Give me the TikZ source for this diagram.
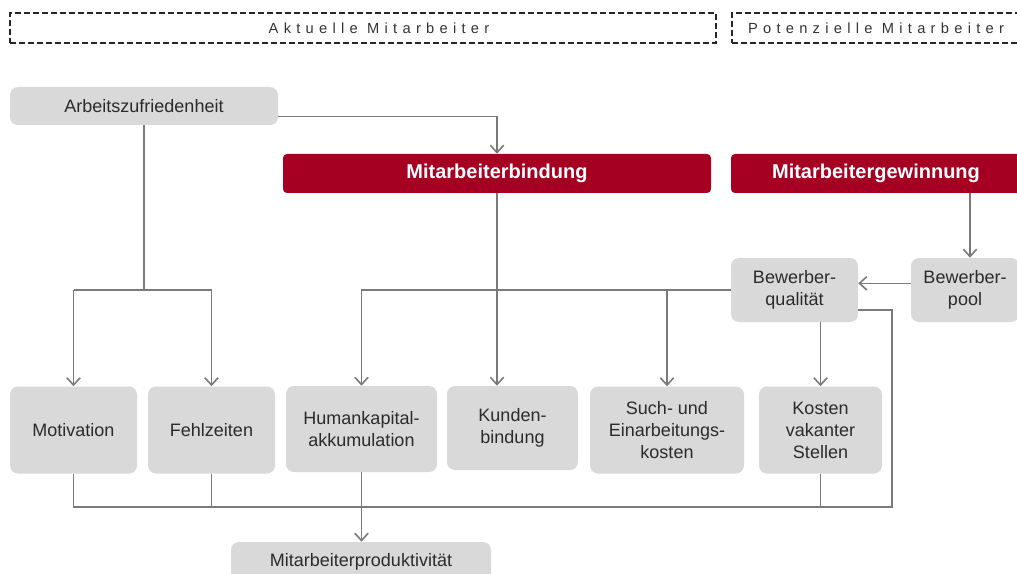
\documentclass[tikz,border=0pt]{standalone}
\usepackage{fontspec}
\setmainfont{Liberation Sans}
\usetikzlibrary{arrows.meta,calc}
\definecolor{boxgray}{HTML}{D9D9D9}
\definecolor{boxred}{HTML}{A50021}
\definecolor{linegray}{HTML}{7A7A7A}
\definecolor{txtgray}{HTML}{2B2B2B}
\begin{document}
\begin{tikzpicture}[x=0.75pt,y=-0.75pt,
  graybox/.style={fill=boxgray,rounded corners=6pt,inner sep=0pt,align=center,
    text=txtgray,font=\fontsize{13.5}{16.5}\selectfont},
  redbox/.style={fill=boxred,rounded corners=3pt,inner sep=0pt,align=center,
    text=white,font=\fontsize{15}{18}\selectfont\bfseries},
  dashbox/.style={draw=black!85,line width=1.1pt,dash pattern=on 4.5pt off 2.25pt,inner sep=0pt},
  toplabel/.style={text=black!80,font=\fontsize{11}{12}\selectfont\addfontfeature{LetterSpace=36}},
  conn/.style={draw=linegray,line width=1.2pt},
  arr/.style={conn,-{Straight Barb[length=5.5pt,width=10pt,line width=1.2pt]}}]
\useasboundingbox (0,0) rectangle (1017,574);
\clip (0,0) rectangle (1017,574);

% header boxes
\node[dashbox,minimum width=529.5pt,minimum height=22.5pt] (ak) at (363,28) {};
\node[toplabel] (akl) at (379,28) {Aktuelle Mitarbeiter};
\node[dashbox,minimum width=215.25pt,minimum height=22.5pt] (po) at (875.5,28) {};
\node[toplabel] (pol) at (876,28) {Potenzielle Mitarbeiter};

% nodes
\node[graybox,minimum width=201pt,minimum height=28.5pt] (az) at (144,106) {Arbeitszufriedenheit};
\node[redbox,minimum width=321pt,minimum height=29.25pt] (mb) at (497,173.5) {Mitarbeiterbindung};
\node[redbox,minimum width=217.5pt,minimum height=29.25pt] (mg) at (876,173.5) {Mitarbeitergewinnung};
\node[graybox,minimum width=95.25pt,minimum height=48pt] (bq) at (794.5,290) {Bewerber-\\qualität};
\node[graybox,minimum width=81pt,minimum height=48pt] (bp) at (965,290) {Bewerber-\\pool};
\node[graybox,minimum width=95.25pt,minimum height=65.25pt] (mo) at (73.5,430) {Motivation};
\node[graybox,minimum width=95.25pt,minimum height=65.25pt] (fz) at (211.5,430) {Fehlzeiten};
\node[graybox,minimum width=113.25pt,minimum height=64.5pt] (hk) at (361.5,429) {Humankapital-\\akkumulation};
\node[graybox,minimum width=98.25pt,minimum height=63pt] (kb) at (512.5,428) {Kunden-\\bindung};
\node[graybox,minimum width=115.5pt,minimum height=65.25pt] (sk) at (667,430) {Such- und\\Einarbeitungs-\\kosten};
\node[graybox,minimum width=92.25pt,minimum height=65.25pt] (kv) at (820.5,430) {Kosten\\vakanter\\Stellen};
\node[graybox,minimum width=195pt,minimum height=30pt] (mp) at (361,562) {Mitarbeiterproduktivität};

\coordinate (busa) at (0,290);
\coordinate (busb) at (0,507);
\coordinate (fb) at (892,507);

% connectors
\draw[arr] ([yshift=-8pt]az.east) -| (mb.north);
\draw[conn] (az.south) -- (az.south |- busa);
\draw[conn] (mo.north |- busa) -- (fz.north |- busa);
\draw[arr] (mo.north |- busa) -- (mo.north);
\draw[arr] (fz.north |- busa) -- (fz.north);
\draw[arr] (mb.south) -- (mb.south |- kb.north);
\draw[arr] ([xshift=3.75pt]bp.north |- mg.south) -- ([xshift=3.75pt]bp.north);
\draw[arr] ([yshift=5pt]bp.west) -- ([yshift=5pt]bq.east);
\draw[arr] (bq.west) -| (hk.north);
\draw[arr] (sk.north |- bq.west) -- (sk.north);
\draw[arr] (bq.south -| kv.north) -- (kv.north);
\draw[conn] ([yshift=-15pt]bq.east) -| (fb) -- (kv.south |- busb);
\draw[conn] (mo.south) -- (mo.south |- busb) -- (kv.south |- busb) -- (kv.south);
\draw[conn] (fz.south) -- (fz.south |- busb);
\draw[arr] (hk.south) -- (hk.south |- mp.north);
\end{tikzpicture}
\end{document}
